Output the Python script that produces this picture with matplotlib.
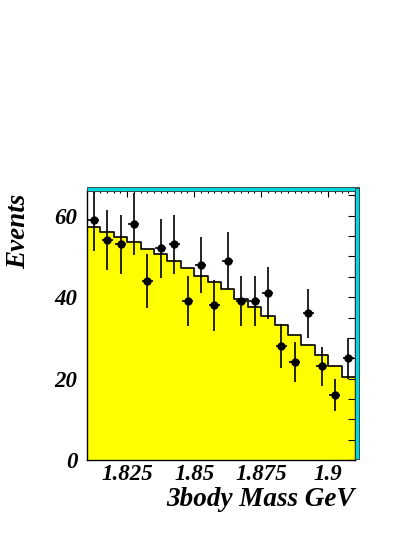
import numpy as np
import matplotlib
matplotlib.use('Agg')
import matplotlib.pyplot as plt
from matplotlib.patches import Rectangle

# 20 bins between 1.81 and 1.91 GeV
mass_lo, mass_hi, nbins = 1.81, 1.91, 20
counts = [59, 54, 53, 58, 44, 52, 53, 39, 48, 38,
          49, 39, 39, 41, 28, 24, 36, 23, 16, 25]
count_err = [7.7, 7.3, 7.3, 7.6, 6.6, 7.2, 7.3, 6.2, 6.9, 6.2,
             7.0, 6.2, 6.2, 6.4, 5.3, 4.9, 6.0, 4.8, 4.0, 5.0]
fit = [57.2, 56.0, 54.7, 53.5, 51.9, 50.5, 48.9, 47.2, 45.3, 43.7,
       42.0, 39.6, 37.6, 35.3, 33.1, 30.6, 28.2, 25.7, 23.0, 20.3]
xticks = [1.825, 1.85, 1.875, 1.9]
xticklabels = ['1.825', '1.85', '1.875', '1.9']
yticks = [0, 20, 40, 60]

edges = np.linspace(mass_lo, mass_hi, nbins + 1)
centers = 0.5 * (edges[:-1] + edges[1:])
bw = edges[1] - edges[0]

W, H = 415, 537
fig = plt.figure(figsize=(W / 100, H / 100), dpi=100)
L, R, B, T = 87, 355, 460, 190.5
ax = fig.add_axes([L / W, 1 - B / H, (R - L) / W, (B - T) / H])

fnt = dict(family='Liberation Serif', weight='bold', style='italic')

fit_y = np.append(fit, fit[-1])
ax.fill_between(edges, fit_y, step='post', color='#ffff00', lw=0, zorder=1)
ax.step(edges, fit_y, where='post', color='black', lw=1.2, zorder=2)

ax.errorbar(centers, counts, yerr=count_err, xerr=bw * 0.41, fmt='o',
            color='black', ms=5, elinewidth=1.2, capsize=0, zorder=3,
            clip_on=True)

ax.set_xlim(mass_lo, mass_hi)
ax.set_ylim(0, 66.2)

ax.set_xticks(xticks)
ax.set_xticklabels(xticklabels, fontsize=16.5, **fnt)
ax.set_xticks(np.arange(1.8125, 1.91, 0.0025), minor=True)
ax.set_yticks(yticks)
ax.set_yticklabels([str(v) for v in yticks], fontsize=16.5, **fnt)
ax.set_yticks(np.arange(0, 66, 5), minor=True)
ax.tick_params(which='both', direction='in', bottom=False, left=False,
               top=True, right=True, labelbottom=True, labelleft=True)
ax.tick_params(axis='x', which='major', length=5, width=0.8, pad=3)
ax.tick_params(axis='x', which='minor', length=2.5, width=0.8)
ax.tick_params(axis='y', which='major', length=5, width=0.8, pad=7)
ax.tick_params(axis='y', which='minor', length=5, width=0.8)
for s in ax.spines.values():
    s.set_linewidth(1.0)
    s.set_zorder(5)

# cyan bevel on the top and right of the frame
fig.patches.append(Rectangle((L / W, 1 - T / H), (R + 3.5 - L) / W, 3 / H,
                             transform=fig.transFigure, facecolor='#00d8e0',
                             edgecolor='#333333', lw=0.6))
fig.patches.append(Rectangle((R / W, 1 - (B - 1) / H), 3.5 / W, (B - 1 - T + 3) / H,
                             transform=fig.transFigure, facecolor='#00d8e0',
                             edgecolor='#333333', lw=0.6))

fig.text(355 / W, 1 - 499 / H, '3body Mass GeV', ha='right', va='center',
         fontsize=19.5, **fnt)
fig.text(19 / W, 1 - 194 / H, 'Events', ha='center', va='top', rotation=90,
         fontsize=19.5, **fnt)

fig.savefig('out.png', dpi=100)
